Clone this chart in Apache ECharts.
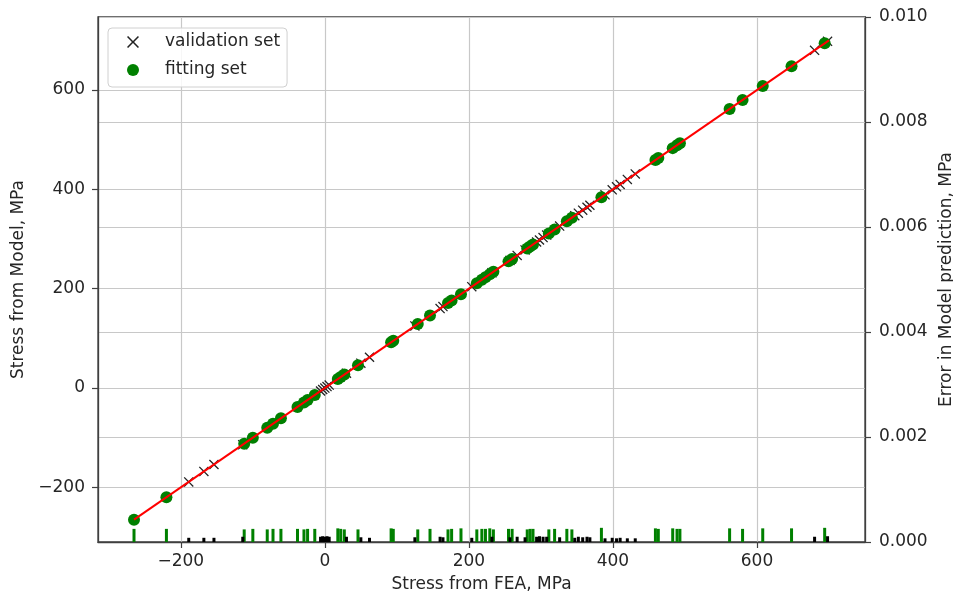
<!DOCTYPE html>
<html>
<head>
<meta charset="utf-8">
<script src="https://cdn.jsdelivr.net/npm/echarts@6/dist/echarts.min.js"></script>
<style>
html,body{margin:0;padding:0;background:#fff;}
#chart{width:953px;height:599px;}
</style>
</head>
<body>
<div id="chart"></div>
<script>
// Fitting set: stress from FEA (x) and from model (y), with error in model prediction
const fitFEA   = [-265, -220, -112, -100, -80, -72, -61, -38, -29, -24, -14, 18, 22, 27, 46, 92, 95, 129, 146, 171, 176, 189, 211, 218, 223, 229, 234, 255, 260, 281, 285, 289, 311, 319, 336, 343, 384, 459, 463, 483, 489, 493, 562, 580, 608, 648, 694];
const fitModel = [-265, -220, -112, -100, -80, -72, -61, -38, -29, -24, -14, 18, 22, 27, 46, 92, 95, 129, 146, 171, 176, 189, 211, 218, 223, 229, 234, 255, 260, 281, 285, 289, 311, 319, 336, 343, 384, 459, 463, 483, 489, 493, 562, 580, 608, 648, 694];
const fitErr   = [0.00025, 0.00025, 0.00024, 0.00025, 0.00024, 0.00025, 0.00025, 0.00025, 0.00024, 0.00025, 0.00025, 0.00026, 0.00025, 0.00024, 0.00024, 0.00026, 0.00025, 0.00024, 0.00025, 0.00024, 0.00025, 0.00026, 0.00024, 0.00025, 0.00025, 0.00026, 0.00024, 0.00025, 0.00025, 0.00024, 0.00025, 0.00025, 0.00024, 0.00025, 0.00025, 0.00024, 0.00027, 0.00026, 0.00025, 0.00026, 0.00025, 0.00025, 0.00026, 0.00025, 0.00026, 0.00026, 0.00027];

// Validation set
const valFEA   = [-189, -168, -154, -114, -6, -3, 0, 3, 6, 30, 50, 62, 125, 160, 164, 204, 232, 257, 267, 278, 294, 298, 303, 308, 326, 347, 352, 358, 364, 368, 389, 399, 405, 410, 420, 431, 680, 698];
const valModel = [-189, -168, -154, -114, -6, -3, 0, 3, 6, 30, 50, 62, 125, 160, 164, 204, 232, 257, 267, 278, 294, 298, 303, 308, 326, 347, 352, 358, 364, 368, 389, 399, 405, 410, 420, 431, 680, 698];
const valErr   = [0.00008, 0.00008, 0.00008, 0.0001, 0.0001, 0.00011, 0.0001, 0.00011, 0.0001, 0.0001, 0.00009, 0.00008, 0.00009, 0.0001, 0.00009, 0.00008, 0.0001, 0.00009, 0.0001, 0.00009, 0.0001, 0.00011, 0.0001, 0.0001, 0.00009, 0.00008, 0.0001, 0.00009, 0.0001, 0.00009, 0.00007, 0.00008, 0.00007, 0.00008, 0.00007, 0.00007, 0.0001, 0.00011];

// Fitted line (Model = FEA)
const lineX = [-265, 700];
const lineY = [-265, 700];

// Tick labels
const xTicks = [-200, 0, 200, 400, 600];
const yTicks = [-200, 0, 200, 400, 600];

const xLabel = 'Stress from FEA, MPa';
const yLabel = 'Stress from Model, MPa';
const y2Label = 'Error in Model prediction, MPa';

const FONT = 'DejaVu Sans';
const TXT = '#262626';
const GRIDC = '#c8c8c8';
const AXC = '#404040';
const crossPath = 'path://M0,0.9 L0.9,0 L5,4.1 L9.1,0 L10,0.9 L5.9,5 L10,9.1 L9.1,10 L5,5.9 L0.9,10 L0,9.1 L4.1,5 Z';

const zip = (a, b) => a.map((v, i) => [v, b[i]]);
const minus = v => String(v).replace('-', '\u2212');

const chart = echarts.init(document.getElementById('chart'), null, {renderer: 'canvas'});
chart.setOption({
  animation: false,
  backgroundColor: '#fff',
  textStyle: {fontFamily: FONT},
  grid: {left: 98, right: 88, top: 17, bottom: 57, show: true, borderColor: AXC, borderWidth: 1.3,
         backgroundColor: 'transparent', containLabel: false, outerBoundsMode: 'none'},
  legend: {
    orient: 'vertical', left: 108, top: 28,
    padding: [4, 7, 7, 19],
    itemWidth: 44, itemHeight: 12, itemGap: 8,
    backgroundColor: 'rgba(255,255,255,0.85)',
    borderColor: '#d0d0d0', borderWidth: 1, borderRadius: 4,
    textStyle: {fontFamily: FONT, fontSize: 17, color: TXT, lineHeight: 20, padding: [0, 0, 0, 5]},
    data: [
      {name: 'validation set', icon: crossPath, itemStyle: {color: '#222', opacity: 1}},
      {name: 'fitting set', icon: 'circle', itemStyle: {color: '#008000', opacity: 1}}
    ]
  },
  xAxis: {
    type: 'value', min: -315, max: 750,
    name: xLabel, nameLocation: 'middle', nameGap: 34,
    nameTextStyle: {fontFamily: FONT, fontSize: 17, color: TXT},
    axisLine: {show: true, onZero: false, lineStyle: {color: AXC, width: 1.3}},
    axisTick: {show: true, length: 6, lineStyle: {color: AXC, width: 1.2}, customValues: xTicks},
    axisLabel: {fontFamily: FONT, fontSize: 17, color: TXT, margin: 11,
                customValues: xTicks, formatter: minus},
    splitLine: {show: true, lineStyle: {color: GRIDC, width: 1.2}}
  },
  yAxis: [
    {
      type: 'value', min: -310, max: 747, position: 'left',
      name: yLabel, nameLocation: 'middle', nameGap: 70, nameRotate: 90,
      nameTextStyle: {fontFamily: FONT, fontSize: 17, color: TXT},
      axisLine: {show: true, onZero: false, lineStyle: {color: AXC, width: 1.3}},
      axisTick: {show: true, length: 6, lineStyle: {color: AXC, width: 1.2}, customValues: yTicks},
      axisLabel: {fontFamily: FONT, fontSize: 17, color: TXT, margin: 13,
                  customValues: yTicks, formatter: minus},
      splitLine: {show: true, lineStyle: {color: GRIDC, width: 1.2}}
    },
    {
      type: 'value', min: 0, max: 0.01, interval: 0.002, position: 'right',
      name: y2Label, nameLocation: 'middle', nameGap: 71, nameRotate: 90,
      nameTextStyle: {fontFamily: FONT, fontSize: 17, color: TXT},
      axisLine: {show: true, onZero: false, lineStyle: {color: AXC, width: 1.3}},
      axisTick: {show: true, length: 6, lineStyle: {color: AXC, width: 1.2}},
      axisLabel: {fontFamily: FONT, fontSize: 17, color: TXT, margin: 14, formatter: v => v.toFixed(3)},
      splitLine: {show: true, lineStyle: {color: GRIDC, width: 1.2}}
    }
  ],
  series: [
    {
      name: 'validation set', type: 'scatter', yAxisIndex: 0, z: 3,
      symbol: crossPath, symbolSize: 10,
      itemStyle: {color: '#222', opacity: 1},
      data: zip(valFEA, valModel)
    },
    {
      name: 'fitting set', type: 'scatter', yAxisIndex: 0, z: 4,
      symbol: 'circle', symbolSize: 12,
      itemStyle: {color: '#008000', opacity: 1},
      data: zip(fitFEA, fitModel)
    },
    {
      name: 'fit', type: 'line', yAxisIndex: 0, z: 5,
      symbol: 'none', lineStyle: {color: '#ff0000', width: 2},
      data: zip(lineX, lineY)
    },
    {
      name: 'fitting error', type: 'bar', yAxisIndex: 1, z: 6,
      barWidth: 3, barGap: '-100%',
      itemStyle: {color: '#008000'},
      data: zip(fitFEA, fitErr)
    },
    {
      name: 'validation error', type: 'bar', yAxisIndex: 1, z: 7,
      barWidth: 3, barGap: '-100%',
      itemStyle: {color: '#000'},
      data: zip(valFEA, valErr)
    }
  ]
});
</script>
</body>
</html>
